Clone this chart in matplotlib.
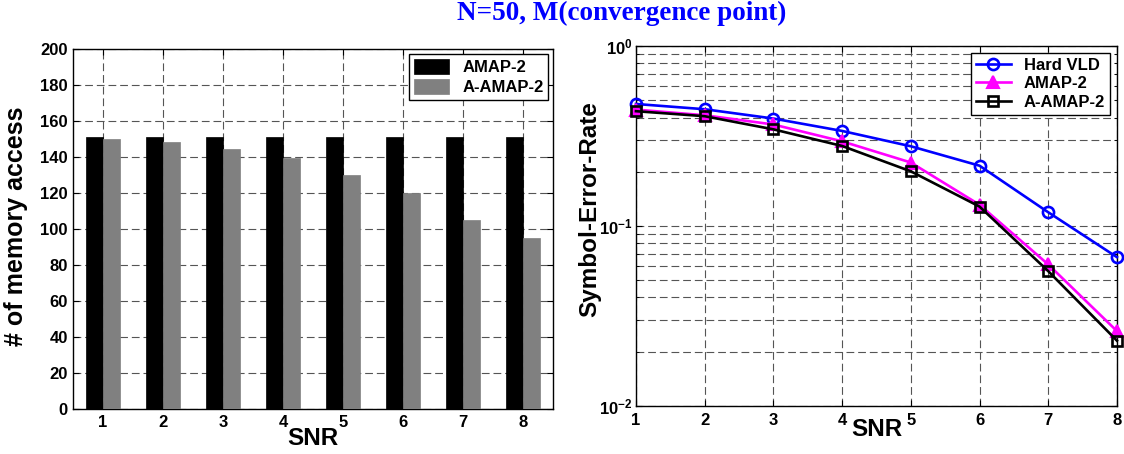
import matplotlib
matplotlib.use("Agg")
import matplotlib.pyplot as plt
import numpy as np
from matplotlib.ticker import FixedLocator, FuncFormatter, LogLocator, NullFormatter

# SNR points shared by both panels
snr = [1, 2, 3, 4, 5, 6, 7, 8]

# Number of memory accesses
mem_amap2 = [151, 151, 151, 151, 151, 151, 151, 151]
mem_aamap2 = [150, 148, 144, 139, 130, 120, 105, 95]

# Symbol error rate
ser_hard_vld = [0.476, 0.445, 0.395, 0.337, 0.277, 0.216, 0.119, 0.067]
ser_amap2 = [0.443, 0.412, 0.366, 0.295, 0.225, 0.131, 0.061, 0.026]
ser_aamap2 = [0.434, 0.407, 0.344, 0.278, 0.201, 0.128, 0.056, 0.023]

mem_ticks = list(range(0, 201, 20))

plt.rcParams.update({
    "font.family": ["Liberation Sans", "DejaVu Sans"],
    "font.weight": "bold",
    "font.size": 12,
    "mathtext.fontset": "custom",
    "mathtext.rm": "Liberation Sans:bold",
    "mathtext.bf": "Liberation Sans:bold",
    "mathtext.it": "Liberation Sans:bold",
    "mathtext.default": "rm",
    "axes.linewidth": 1.0,
})

fig = plt.figure(figsize=(11.24, 4.54), dpi=100)
ax1 = fig.add_axes([0.0647, 0.0998, 0.4276, 0.793])
ax2 = fig.add_axes([0.5658, 0.1064, 0.4279, 0.7923])

grid_kw = dict(color="#555555", linewidth=0.8, linestyle=(0, (7, 3.5)))

# ---- left panel: grouped bars ----
x = np.array(snr, dtype=float)
w = 0.28
ax1.set_axisbelow(True)
ax1.bar(x - w / 2, mem_amap2, w, color="black", edgecolor="black",
        linewidth=0.5, label="AMAP-2", zorder=3)
ax1.bar(x + w / 2, mem_aamap2, w, color="#808080", edgecolor="#808080",
        linewidth=0.5, label="A-AMAP-2", zorder=3)
ax1.set_xlim(0.5, 8.5)
ax1.set_ylim(0, 200)
ax1.set_xticks(snr)
ax1.set_yticks(mem_ticks)
ax1.grid(True, which="major", **grid_kw)
ax1.tick_params(direction="in", top=True, right=True, length=4, labelsize=12)
ax1.tick_params(axis="y", pad=3.5)
ax1.tick_params(axis="x", pad=4.5)
ax1.set_xlabel("SNR", fontsize=17.5, fontweight="bold", labelpad=-2)
ax1.set_ylabel("# of memory access", fontsize=18, fontweight="bold")
ax1.yaxis.set_label_coords(-0.093, 0.507)
leg1 = ax1.legend(loc="upper right", fontsize=12, fancybox=False,
                  edgecolor="black", framealpha=1, handlelength=2.1,
                  handleheight=1.05, labelspacing=0.22, borderpad=0.3,
                  handletextpad=0.8, borderaxespad=0.3)
leg1.get_frame().set_linewidth(1.0)

# ---- right panel: error-rate curves ----
ax2.set_yscale("log")
ax2.plot(snr, ser_hard_vld, color="blue", lw=1.9, marker="o", ms=8,
         mfc="none", mew=1.9, label="Hard VLD", clip_on=False, zorder=4)
ax2.plot(snr, ser_amap2, color="magenta", lw=1.9, marker="^", ms=8,
         mfc="magenta", mew=1.5, label="AMAP-2", clip_on=False, zorder=4)
ax2.plot(snr, ser_aamap2, color="black", lw=1.9, marker="s", ms=7,
         mfc="none", mew=1.9, label="A-AMAP-2", clip_on=False, zorder=5)
ax2.set_xlim(1, 8)
ax2.set_ylim(1e-2, 1)
ax2.set_xticks(snr)
ax2.yaxis.set_major_locator(FixedLocator([1e-2, 1e-1, 1]))
ax2.yaxis.set_minor_locator(LogLocator(base=10, subs=np.arange(2, 10)))
ax2.yaxis.set_minor_formatter(NullFormatter())
ax2.yaxis.set_major_formatter(
    FuncFormatter(lambda v, p: r"$10^{%d}$" % int(round(np.log10(v)))))
ax2.grid(True, which="major", axis="both", **grid_kw)
ax2.grid(True, which="minor", axis="y", **grid_kw)
ax2.tick_params(which="both", direction="in", top=True, right=True, labelsize=12)
ax2.tick_params(which="major", length=4)
ax2.tick_params(which="minor", length=2.5)
ax2.tick_params(axis="y", pad=2.5)
ax2.tick_params(axis="x", pad=5)
ax2.set_xlabel("SNR", fontsize=17.5, fontweight="bold", labelpad=-7)
ax2.set_ylabel("Symbol-Error-Rate", fontsize=17.5, fontweight="bold")
ax2.yaxis.set_label_coords(-0.073, 0.547)
leg2 = ax2.legend(loc="upper right", fontsize=12, fancybox=False,
                  edgecolor="black", framealpha=1, handlelength=2.1,
                  labelspacing=0.22, borderpad=0.3, handletextpad=0.8,
                  borderaxespad=0.4)
leg2.get_frame().set_linewidth(1.0)

fig.text(0.553, 1 - 13.5 / 454, "N=50, M(convergence point)", ha="center",
         va="center", color="blue", fontsize=19.5, fontweight="bold",
         family="Liberation Serif")

fig.savefig("out.png", dpi=100)
